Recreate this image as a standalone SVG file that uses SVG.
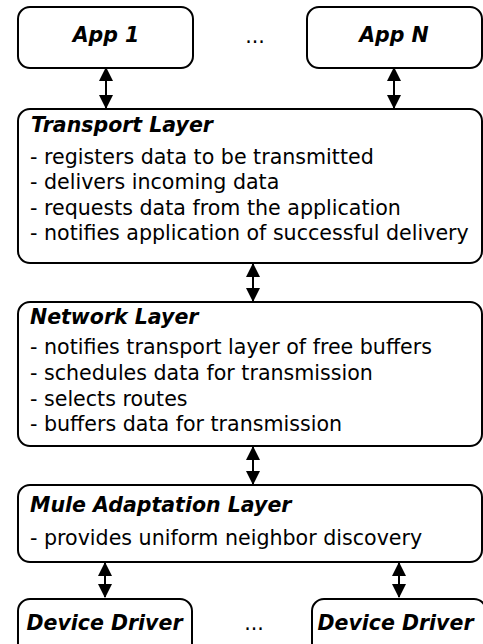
<svg xmlns="http://www.w3.org/2000/svg" width="483" height="644" viewBox="0 0 483 644">
<style>
.box{fill:#fff;stroke:#000;stroke-width:2}
.t{font-family:"DejaVu Sans",sans-serif;font-size:20.5px;font-weight:bold;font-style:italic;fill:#000}
.b{font-family:"DejaVu Sans",sans-serif;font-size:20.6px;fill:#000}
.c{stroke:#000;stroke-width:2;fill:none;marker-start:url(#ah);marker-end:url(#ah)}
</style>
<defs>
<marker id="ah" viewBox="0 0 14 14" refX="13" refY="7" markerWidth="14" markerHeight="14" markerUnits="userSpaceOnUse" orient="auto-start-reverse">
<path d="M0,0 L14,7 L0,14 Z" fill="#000"/>
</marker>
</defs>
<rect width="483" height="644" fill="#fff"/>
<g id="connectors">
<line class="c" x1="106" y1="68" x2="106" y2="108"/>
<line class="c" x1="394" y1="68" x2="394" y2="108"/>
<line class="c" x1="253" y1="264" x2="253" y2="301"/>
<line class="c" x1="253" y1="447" x2="253" y2="484"/>
<line class="c" x1="105" y1="563" x2="105" y2="597"/>
<line class="c" x1="399" y1="563" x2="399" y2="597"/>
</g>
<g id="app1">
<rect class="box" x="18" y="7" width="175" height="61" rx="12"/>
<text class="t" x="106" y="42" text-anchor="middle">App 1</text>
</g>
<text class="b" x="255" y="43" text-anchor="middle">...</text>
<g id="appN">
<rect class="box" x="307" y="7" width="175" height="61" rx="12"/>
<text class="t" x="394" y="42" text-anchor="middle">App N</text>
</g>
<g id="transport">
<rect class="box" x="18" y="109" width="464" height="154" rx="12"/>
<text class="t" x="31" y="132">Transport Layer</text>
<text class="b" x="30" y="163.5">- registers data to be transmitted</text>
<text class="b" x="30" y="189">- delivers incoming data</text>
<text class="b" x="30" y="214.5">- requests data from the application</text>
<text class="b" x="30" y="240">- notifies application of successful delivery</text>
</g>
<g id="network">
<rect class="box" x="18" y="302" width="464" height="144" rx="12"/>
<text class="t" x="30" y="323.5">Network Layer</text>
<text class="b" x="30" y="354">- notifies transport layer of free buffers</text>
<text class="b" x="30" y="380">- schedules data for transmission</text>
<text class="b" x="30" y="405.5">- selects routes</text>
<text class="b" x="30" y="431">- buffers data for transmission</text>
</g>
<g id="mule">
<rect class="box" x="18" y="485" width="464" height="77" rx="12"/>
<text class="t" x="30" y="512">Mule Adaptation Layer</text>
<text class="b" x="30" y="545">- provides uniform neighbor discovery</text>
</g>
<g id="driver1">
<rect class="box" x="18" y="599" width="174" height="61" rx="12"/>
<text class="t" x="104.5" y="630" text-anchor="middle">Device Driver</text>
</g>
<text class="b" x="254" y="630" text-anchor="middle">...</text>
<g id="driver2">
<rect class="box" x="312" y="599" width="174" height="61" rx="12"/>
<text class="t" x="395.5" y="630" text-anchor="middle">Device Driver</text>
</g>
</svg>
